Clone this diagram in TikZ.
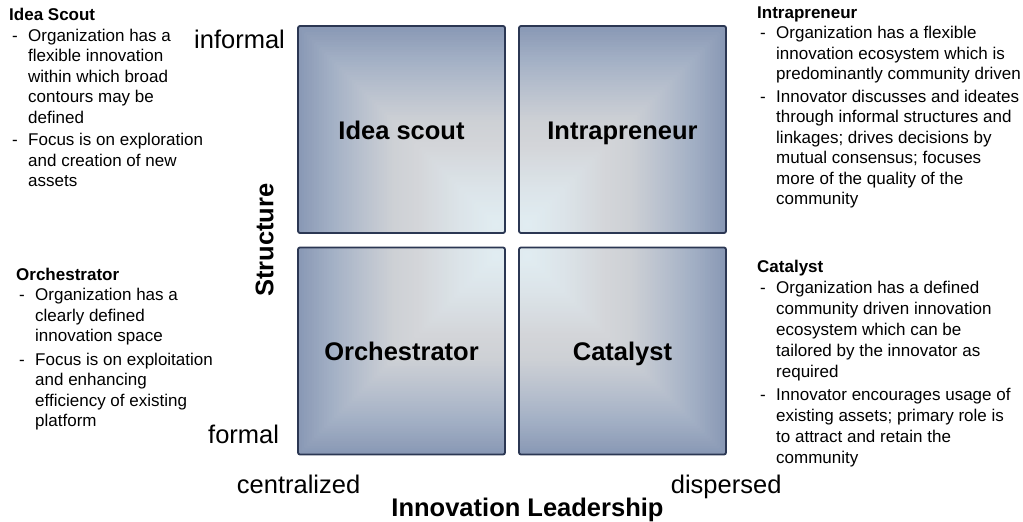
\documentclass[tikz,border=0pt]{standalone}
\usepackage{fontspec}
\setmainfont{Liberation Sans}

% quadrant colours, from the bright corner outwards
\definecolor{qa}{HTML}{E1EDF2}
\definecolor{qb}{HTML}{DBE3E8}
\definecolor{qc}{HTML}{D3D5D9}
\definecolor{qd}{HTML}{CDD0D5}
\definecolor{qe}{HTML}{B9C1CE}
\definecolor{qf}{HTML}{A3B0C5}
\definecolor{qg}{HTML}{8696B3}
\definecolor{qedge}{HTML}{2B3753}

% colour of the corner glow at relative distance #1 (0 = bright corner, 1 = far edges)
\newcommand\ringcolor[1]{%
  \ifdim#1pt<0.20pt \pgfmathsetmacro\ringp{100*#1/0.20}\colorlet{ringc}{qb!\ringp!qa}%
  \else\ifdim#1pt<0.40pt \pgfmathsetmacro\ringp{100*(#1-0.20)/0.20}\colorlet{ringc}{qc!\ringp!qb}%
  \else\ifdim#1pt<0.52pt \pgfmathsetmacro\ringp{100*(#1-0.40)/0.12}\colorlet{ringc}{qd!\ringp!qc}%
  \else\ifdim#1pt<0.67pt \pgfmathsetmacro\ringp{100*(#1-0.52)/0.15}\colorlet{ringc}{qe!\ringp!qd}%
  \else\ifdim#1pt<0.82pt \pgfmathsetmacro\ringp{100*(#1-0.67)/0.15}\colorlet{ringc}{qf!\ringp!qe}%
  \else \pgfmathsetmacro\ringp{min(100,100*(#1-0.82)/0.18)}\colorlet{ringc}{qg!\ringp!qf}%
  \fi\fi\fi\fi\fi}

% list helpers for the side notes
\newcommand\ndash{\makebox[19pt][l]{\hspace{3pt}-}}
\newcommand\nind{\makebox[19pt]{}}

\tikzset{
  quad/.style={draw=qedge, line width=1.8pt, rounded corners=2pt,
    minimum width=207pt, minimum height=207pt, inner sep=0pt,
    text height=19.6pt, text depth=0pt,
    font=\fontsize{25.5}{30}\selectfont\bfseries},
  % nested squares give a glow spreading from the corner facing the middle of the grid
  glowat/.style 2 args={path picture={
    \coordinate (glowc) at ([xshift=#1, yshift=#2]path picture bounding box.center);
    \foreach \i in {0,...,86} {
      \pgfmathsetmacro\ringr{215-2.5*\i}
      \pgfmathsetmacro\ringf{\ringr/202}
      \ringcolor{\ringf}
      \fill[ringc] ([xshift=-\ringr pt, yshift=-\ringr pt]glowc)
        rectangle ([xshift=\ringr pt, yshift=\ringr pt]glowc);
    }}},
  axislabel/.style={font=\fontsize{25.5}{30}\selectfont, inner sep=0pt},
  axistitle/.style={font=\fontsize{25.5}{30}\selectfont\bfseries, inner sep=0pt},
  notes/.style={font=\fontsize{17}{20.5}\selectfont, align=left,
    inner sep=0pt, anchor=north west}
}

\begin{document}
\begin{tikzpicture}[x=1pt, y=-1pt]
  \useasboundingbox[fill=white] (0,0) rectangle (1023,522);

  % the four quadrants
  \node[quad, glowat={95pt}{-95pt}]  (scout) at (401.5,129.5) {Idea scout};
  \node[quad, glowat={-95pt}{-95pt}] (intra) at (622.5,129.5) {Intrapreneur};
  \node[quad, glowat={95pt}{95pt}]   (orch)  at (401.5,351)   {Orchestrator};
  \node[quad, glowat={-95pt}{95pt}]  (cata)  at (622.5,351)   {Catalyst};

  % axis labels
  \node[axislabel, anchor=base west] (informal) at (194,48.3)  {informal};
  \node[axislabel, anchor=base west] (formal)   at (208,443.3) {formal};
  \node[axislabel, anchor=base west] (central)  at (236.7,493.3) {centralized};
  \node[axislabel, anchor=base west] (dispers)  at (670.7,493.3) {dispersed};
  \node[axistitle, anchor=base] (leader) at (527.5,516.7) {Innovation Leadership};
  \node[axistitle, rotate=90, anchor=base] (struct) at (273.3,240) {Structure};

  % side notes
  \node[notes] (nscout) at (9,8) {\textbf{Idea Scout}\\
    \ndash Organization has a\\
    \nind flexible innovation\\
    \nind within which broad\\
    \nind contours may be\\
    \nind defined\\[2pt]
    \ndash Focus is on exploration\\
    \nind and creation of new\\
    \nind assets};

  \node[notes] (nintra) at (757,6.5) {\textbf{Intrapreneur}\\
    \ndash Organization has a flexible\\
    \nind innovation ecosystem which is\\
    \nind predominantly community driven\\[2pt]
    \ndash Innovator discusses and ideates\\
    \nind through informal structures and\\
    \nind linkages; drives decisions by\\
    \nind mutual consensus; focuses\\
    \nind more of the quality of the\\
    \nind community};

  \node[notes] (norch) at (16,267.5) {\textbf{Orchestrator}\\
    \ndash Organization has a\\
    \nind clearly defined\\
    \nind innovation space\\[3pt]
    \ndash Focus is on exploitation\\
    \nind and enhancing\\
    \nind efficiency of existing\\
    \nind platform};

  \node[notes, font=\fontsize{17}{20.9}\selectfont] (ncata) at (757,260) {\textbf{Catalyst}\\
    \ndash Organization has a defined\\
    \nind community driven innovation\\
    \nind ecosystem which can be\\
    \nind tailored by the innovator as\\
    \nind required\\[3pt]
    \ndash Innovator encourages usage of\\
    \nind existing assets; primary role is\\
    \nind to attract and retain the\\
    \nind community};
\end{tikzpicture}
\end{document}
